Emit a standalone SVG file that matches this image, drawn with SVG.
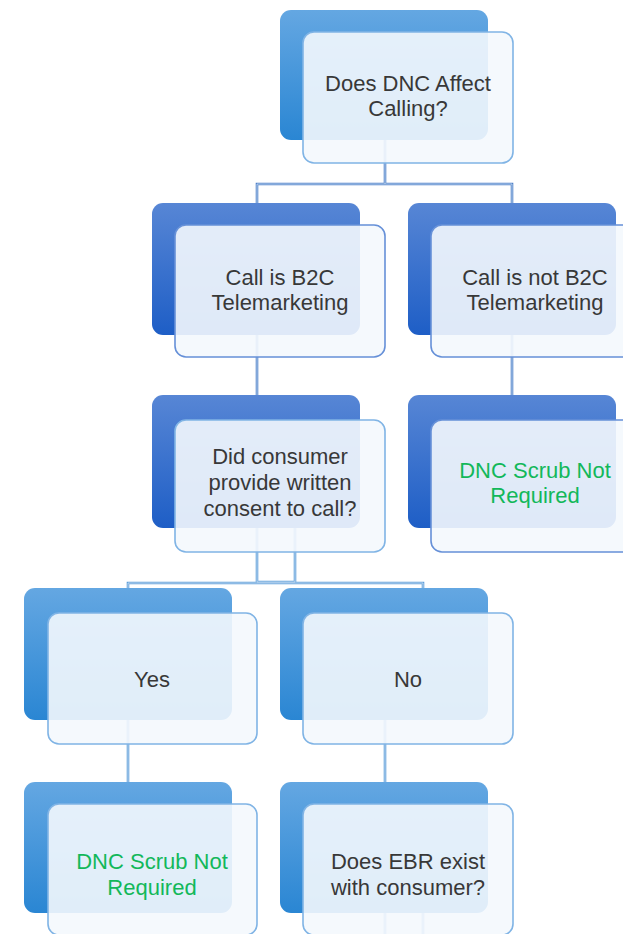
<svg xmlns="http://www.w3.org/2000/svg" xmlns:xlink="http://www.w3.org/1999/xlink" width="623" height="934" viewBox="0 0 623 934">
  <defs>
    <linearGradient id="gA" x1="0" y1="0" x2="0" y2="1">
      <stop offset="0" stop-color="#64A7E2"/>
      <stop offset="1" stop-color="#2A86D3"/>
    </linearGradient>
    <linearGradient id="gB" x1="0" y1="0" x2="0" y2="1">
      <stop offset="0" stop-color="#5786D5"/>
      <stop offset="1" stop-color="#1E5EC6"/>
    </linearGradient>
    <path id="p1" d="M257,203 V184 H512 V203 M385,140 V184"/>
    <path id="p2" d="M257,335 V395 M512,335 V395"/>
    <path id="p3" d="M257,528 V582 H295 V528 M128,588 V583 H423 V588"/>
    <path id="p4" d="M128,720 V782 M385,720 V782 M385,913 V934 M423,913 V934"/>
  </defs>
  <style>
    .ca { fill: none; stroke: #5F9FDA; stroke-width: 2.6; }
    .cb { fill: none; stroke: #4F80C9; stroke-width: 2.6; }
    .ci { fill: none; stroke: #D2E3F5; stroke-width: 0.8; }
    .bA { fill: url(#gA); }
    .bB { fill: url(#gB); }
    .f { fill: #F4F8FD; fill-opacity: 0.9; stroke-width: 1.6; }
    .fA { stroke: #80B4E5; }
    .fB { stroke: #6690D8; }
    text { font-family: "Liberation Sans", Arial, sans-serif; font-size: 22px; fill: #383838; text-anchor: middle; }
    text.g { fill: #12B85A; }
  </style>

  <g id="connectors">
    <use xlink:href="#p1" class="cb"/>
    <use xlink:href="#p1" class="ci"/>
    <use xlink:href="#p2" class="cb"/>
    <use xlink:href="#p2" class="ci"/>
    <use xlink:href="#p3" class="ca"/>
    <use xlink:href="#p3" class="ci"/>
    <use xlink:href="#p4" class="ca"/>
    <use xlink:href="#p4" class="ci"/>
  </g>

  <g id="n1">
    <rect class="bA" x="280" y="10" width="208" height="130" rx="11"/>
    <rect class="f fA" x="303" y="32" width="210" height="131" rx="11"/>
    <text x="408" y="91">Does DNC Affect</text>
    <text x="408" y="116">Calling?</text>
  </g>

  <g id="n2">
    <rect class="bB" x="152" y="203" width="208" height="132" rx="11"/>
    <rect class="f fB" x="175" y="225" width="210" height="132" rx="11"/>
    <text x="280" y="285">Call is B2C</text>
    <text x="280" y="310">Telemarketing</text>
  </g>

  <g id="n3">
    <rect class="bB" x="408" y="203" width="208" height="132" rx="11"/>
    <rect class="f fB" x="431" y="225" width="210" height="132" rx="11"/>
    <text x="535" y="285">Call is not B2C</text>
    <text x="535" y="310">Telemarketing</text>
  </g>

  <g id="n4">
    <rect class="bB" x="152" y="395" width="208" height="133" rx="11"/>
    <rect class="f fA" x="175" y="420" width="210" height="132" rx="11"/>
    <text x="280" y="464">Did consumer</text>
    <text x="280" y="490">provide written</text>
    <text x="280" y="516">consent to call?</text>
  </g>

  <g id="n5">
    <rect class="bB" x="408" y="395" width="208" height="133" rx="11"/>
    <rect class="f fB" x="431" y="420" width="210" height="132" rx="11"/>
    <text class="g" x="535" y="478">DNC Scrub Not</text>
    <text class="g" x="535" y="503">Required</text>
  </g>

  <g id="n6">
    <rect class="bA" x="24" y="588" width="208" height="132" rx="11"/>
    <rect class="f fA" x="48" y="613" width="209" height="131" rx="11"/>
    <text x="152" y="687">Yes</text>
  </g>

  <g id="n7">
    <rect class="bA" x="280" y="588" width="208" height="132" rx="11"/>
    <rect class="f fA" x="303" y="613" width="210" height="131" rx="11"/>
    <text x="408" y="687">No</text>
  </g>

  <g id="n8">
    <rect class="bA" x="24" y="782" width="208" height="131" rx="11"/>
    <rect class="f fA" x="48" y="804" width="209" height="131" rx="11"/>
    <text class="g" x="152" y="869">DNC Scrub Not</text>
    <text class="g" x="152" y="895">Required</text>
  </g>

  <g id="n9">
    <rect class="bA" x="280" y="782" width="208" height="131" rx="11"/>
    <rect class="f fA" x="303" y="804" width="210" height="131" rx="11"/>
    <text x="408" y="869">Does EBR exist</text>
    <text x="408" y="895">with consumer?</text>
  </g>
</svg>
